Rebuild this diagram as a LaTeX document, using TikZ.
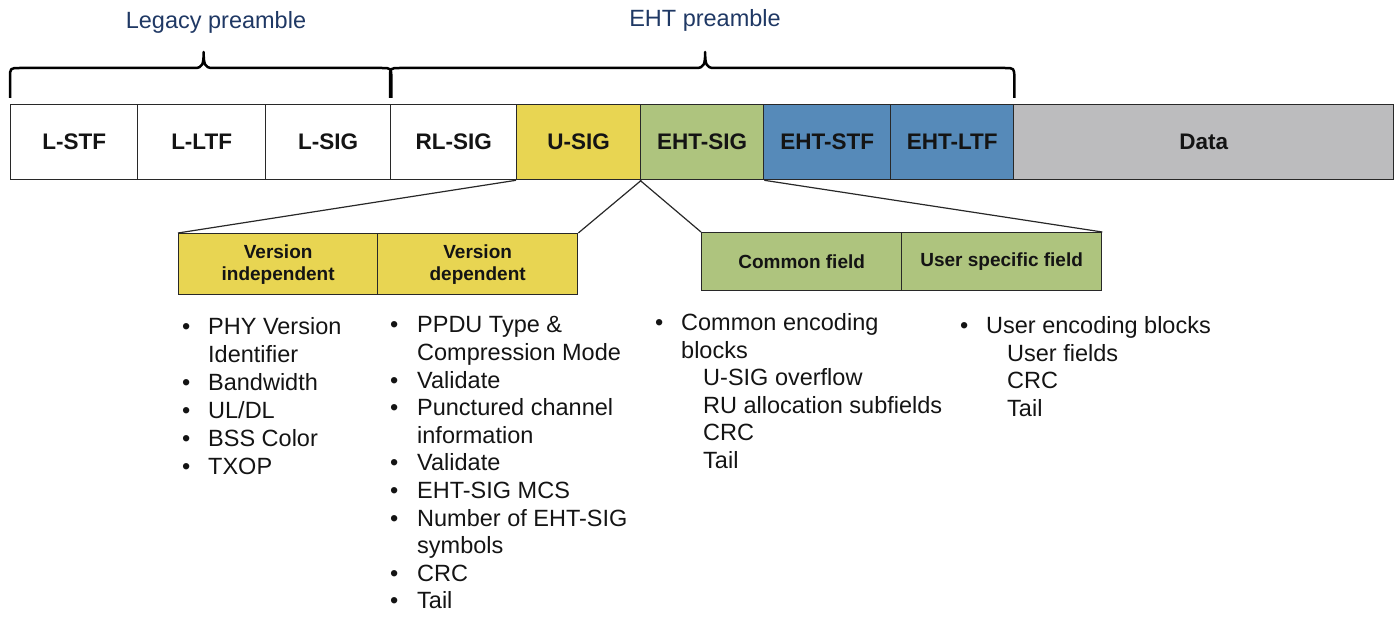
\documentclass[tikz,border=0pt]{standalone}
\usepackage{fontspec}
\setmainfont{Liberation Sans}
\usetikzlibrary{calc}
\definecolor{usig}{RGB}{232,213,82}
\definecolor{ehtsig}{RGB}{174,196,126}
\definecolor{ehtblue}{RGB}{86,138,185}
\definecolor{datagray}{RGB}{188,188,190}
\definecolor{titleblue}{RGB}{31,56,100}
\definecolor{edge}{RGB}{40,40,40}
\definecolor{txt}{RGB}{20,20,20}
\begin{document}
\begin{tikzpicture}[x=1pt,y=1pt,
 cell/.style={draw=edge, line width=1.3pt, minimum height=75pt, inner sep=0pt, anchor=north west,
   font=\fontsize{22.5}{25}\selectfont\bfseries, text=txt},
 sub/.style={draw=edge, line width=1.3pt, inner sep=0pt, anchor=north west,
   font=\fontsize{19}{22}\selectfont\bfseries, align=center, text=txt},
 link/.style={draw=edge, line width=1.2pt},
 brc/.style={draw=black, line width=2.5pt},
 ttl/.style={font=\fontsize{23.5}{27}\selectfont, text=titleblue, inner sep=0pt},
 lst/.style={anchor=base west, inner sep=0pt, text=txt}
]
\useasboundingbox (0,0) rectangle (1398,-617);

% main row
\node[cell, minimum width=127pt] (lstf) at (10,-104) {L-STF};
\node[cell, minimum width=128pt] (lltf) at (137,-104) {L-LTF};
\node[cell, minimum width=125pt] (lsig) at (265,-104) {L-SIG};
\node[cell, minimum width=126pt] (rlsig) at (390,-104) {RL-SIG};
\node[cell, minimum width=124pt, fill=usig] (usig) at (516,-104) {U-SIG};
\node[cell, minimum width=123pt, fill=ehtsig] (ehtsig) at (640,-104) {EHT-SIG};
\node[cell, minimum width=127pt, fill=ehtblue] (ehtstf) at (763,-104) {EHT-STF};
\node[cell, minimum width=123pt, fill=ehtblue] (ehtltf) at (890,-104) {EHT-LTF};
\node[cell, minimum width=380pt, fill=datagray] (data) at (1013,-104) {Data};

% braces
\coordinate (la) at ($(lstf.north west)+(0,6)$);
\coordinate (lb) at ($(lsig.north east)+(0,6)$);
\coordinate (ea) at ($(rlsig.north west)+(0,6)$);
\coordinate (eb) at ($(ehtltf.north east)+(0,6)$);
\foreach \a/\b in {la/lb, ea/eb}{
\draw[brc, line join=round] let \p1=(\a), \p2=(\b), \n1={(\x1+\x2)/2+3pt} in
  (\x1,\y1) -- (\x1,\y1+20pt) .. controls (\x1,\y1+30pt) .. (\x1+10pt,\y1+30pt)
  -- (\n1-9pt,\y1+30pt) .. controls (\n1-1pt,\y1+30pt) and (\n1,\y1+34pt) .. (\n1,\y1+46pt)
  .. controls (\n1,\y1+34pt) and (\n1+1pt,\y1+30pt) .. (\n1+9pt,\y1+30pt)
  -- (\x2-10pt,\y1+30pt) .. controls (\x2,\y1+30pt) .. (\x2,\y1+20pt) -- (\x2,\y1);
}
\node[ttl] (legt) at (216,-22) {Legacy preamble};
\node[ttl] (ehtt) at (705,-20) {EHT preamble};

% sub boxes
\node[sub, fill=usig, minimum width=199pt, minimum height=61pt] (vi) at (178,-233) {Version\\independent};
\node[sub, fill=usig, minimum width=200pt, minimum height=61pt] (vd) at (377,-233) {Version\\dependent};
\node[sub, fill=ehtsig, minimum width=200pt, minimum height=58pt] (cf) at (701,-232) {Common field};
\node[sub, fill=ehtsig, minimum width=200pt, minimum height=58pt] (usf) at (901,-232) {User specific field};

\draw[link] (usig.south west) -- (vi.north west);
\draw[link] (usig.south east) -- (vd.north east);
\draw[link] (ehtsig.south west) -- (cf.north west);
\draw[link] (ehtsig.south east) -- (usf.north east);

% lists
\node[lst, font=\fontsize{23.5}{28}\selectfont] (l1) at (182,-335) {%
\begin{tabular}[t]{@{}p{26pt}@{}l@{}}
\textbullet & PHY Version\\
 & Identifier\\
\textbullet & Bandwidth\\
\textbullet & UL/DL\\
\textbullet & BSS Color\\
\textbullet & TXOP
\end{tabular}};
\node[lst, font=\fontsize{23.5}{27.6}\selectfont] (l2) at (390,-333) {%
\begin{tabular}[t]{@{}p{27pt}@{}l@{}}
\textbullet & PPDU Type \&\\
 & Compression Mode\\
\textbullet & Validate\\
\textbullet & Punctured channel\\
 & information\\
\textbullet & Validate\\
\textbullet & EHT-SIG MCS\\
\textbullet & Number of EHT-SIG\\
 & symbols\\
\textbullet & CRC\\
\textbullet & Tail\\[-8.3pt]
\end{tabular}};
\node[lst, font=\fontsize{23.5}{27.5}\selectfont] (l3) at (655,-331) {%
\begin{tabular}[t]{@{}p{26pt}@{}l@{}}
\textbullet & Common encoding\\
 & blocks\\
 & \hspace{22pt}U-SIG overflow\\
 & \hspace{22pt}RU allocation subfields\\
 & \hspace{22pt}CRC\\
 & \hspace{22pt}Tail
\end{tabular}};
\node[lst, font=\fontsize{23.5}{27.5}\selectfont] (l4) at (960,-334) {%
\begin{tabular}[t]{@{}p{26pt}@{}l@{}}
\textbullet & User encoding blocks\\
 & \hspace{21pt}User fields\\
 & \hspace{21pt}CRC\\
 & \hspace{21pt}Tail
\end{tabular}};
\end{tikzpicture}
\end{document}
